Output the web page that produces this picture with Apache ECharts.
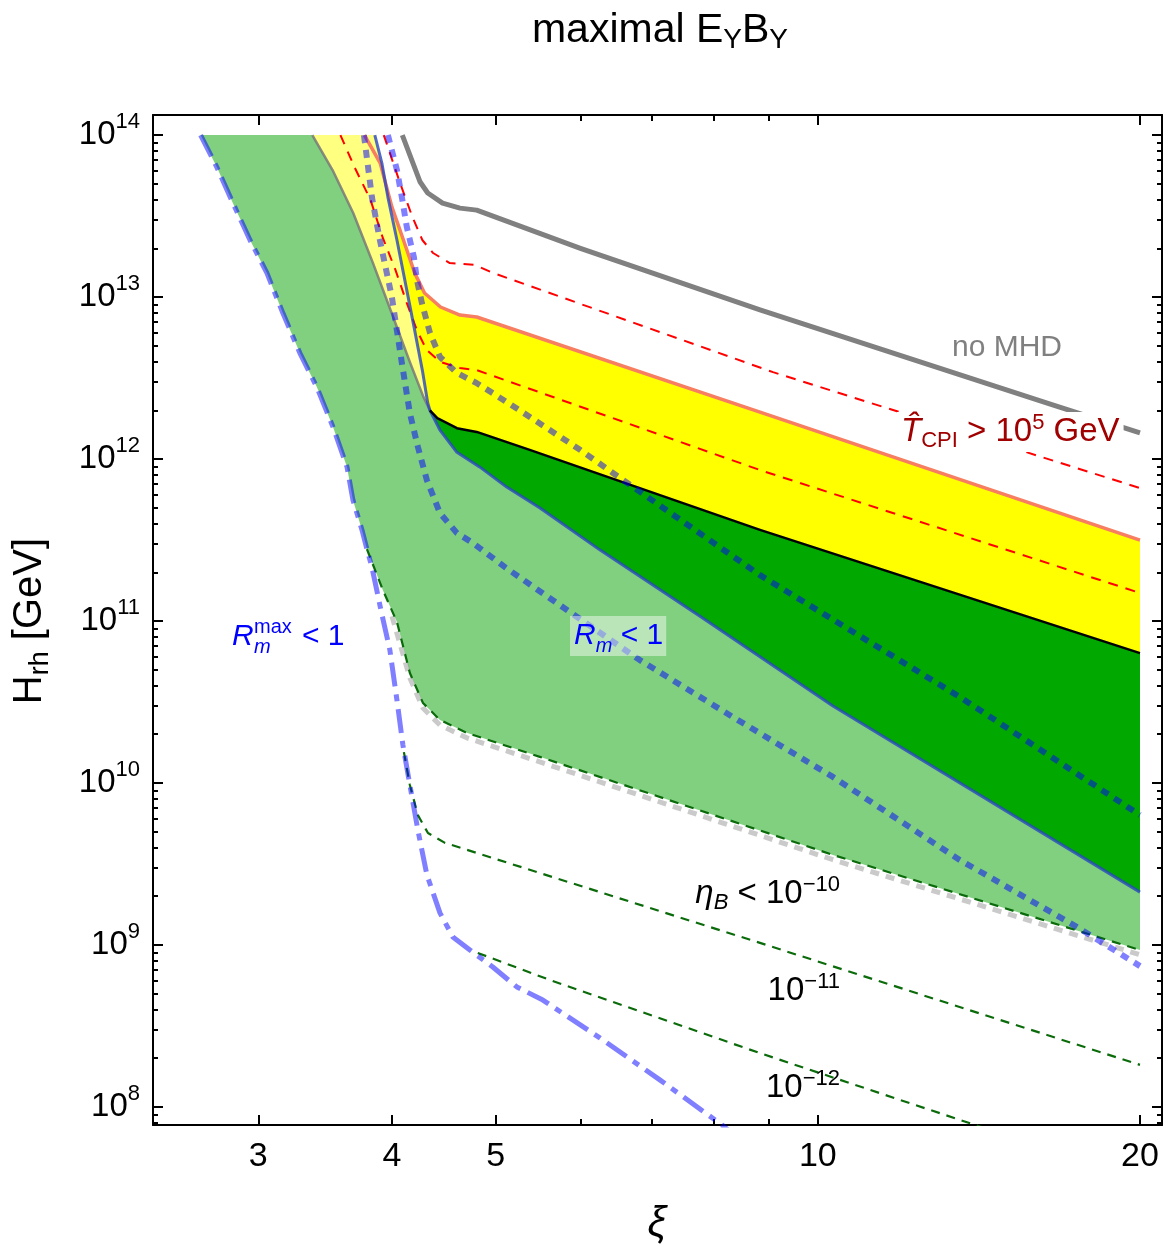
<!DOCTYPE html>
<html>
<head>
<meta charset="utf-8">
<script src="https://cdn.jsdelivr.net/npm/echarts@6.0.0/dist/echarts.min.js"></script>
<style>
  html, body { margin: 0; padding: 0; background: #fff; }
  #chart { width: 1173px; height: 1257px; }
</style>
</head>
<body>
<div id="chart"></div>
<script>
// axis ranges and ticks
var xMin = 2.392, xMax = 20.97;
var yMin = 7.74e7, yMax = 1.33e14;
var xMajorTicks = [3, 4, 5, 10, 20];
var xMinorTicks = [6, 7, 8, 9];
var yMajorTicks = [1e8, 1e9, 1e10, 1e11, 1e12, 1e13, 1e14];
var yMinorTicks = [];
[1e7].concat(yMajorTicks).forEach(function (d) {
  for (var k = 2; k <= 9; k++) yMinorTicks.push(k * d);
});

// curves, [xi, H_rh]
var grayNoMHD = [[4.09, 1e14], [4.25, 5.13e13], [4.32, 4.39e13], [4.46, 3.80e13], [4.63, 3.54e13],
  [4.80, 3.44e13], [6.0, 2.0e13], [8.83, 8.32e12], [16.6, 2.15e12], [20, 1.45e12]];
var tcpiHigh = [[3.93, 1e14], [4.07, 5.06e13], [4.18, 3.12e13], [4.27, 2.25e13], [4.37, 1.87e13],
  [4.53, 1.62e13], [4.78, 1.58e13], [4.97, 1.41e13], [9.08, 3.44e12], [20, 6.62e11]];
var orangeLine = [[3.77, 1e14], [3.90, 6.71e13], [4.00, 3.59e13], [4.10, 2.25e13], [4.20, 1.41e13],
  [4.29, 1.06e13], [4.44, 8.68e12], [4.63, 7.74e12], [4.80, 7.53e12], [9.22, 1.77e12], [20, 3.16e11]];
var tcpiLow = [[3.58, 1e14], [3.69, 6.34e13], [3.82, 3.97e13], [3.92, 2.34e13], [4.03, 1.47e13],
  [4.13, 9.18e12], [4.22, 6.25e12], [4.31, 4.71e12], [4.44, 3.97e12], [4.63, 3.65e12],
  [4.80, 3.54e12], [8.83, 8.55e11], [20, 1.49e11]];
var graySteep = [[3.37, 1e14], [3.52, 6.08e13], [3.68, 3.30e13], [3.84, 1.62e13], [4.01, 7.53e12],
  [4.16, 3.92e12], [4.28, 2.42e12], [4.34, 2.0e12]];
var rmTop = [[3.855, 1e14], [3.914, 6.71e13], [3.965, 4.14e13], [4.043, 2.25e13], [4.13, 1.10e13],
  [4.20, 6.25e12], [4.27, 3.54e12], [4.32, 2.22e12], [4.34, 2.0e12]];
var rmLow = [[4.34, 2.0e12], [4.435, 1.51e12], [4.60, 1.10e12], [4.83, 8.94e11], [5.12, 6.71e11],
  [5.50, 4.99e11], [6.26, 2.74e11], [7.76, 1.07e11], [10.33, 2.99e10], [20, 2.12e9]];
var blackLine = [[4.34, 2.0e12], [4.41, 1.79e12], [4.60, 1.55e12], [4.80, 1.47e12], [5.38, 1.14e12],
  [8.83, 3.65e11], [20, 6.34e10]];
var rmMaxTop = [[2.65, 1e14], [2.744, 6.34e13], [2.841, 3.80e13], [2.947, 2.25e13], [3.056, 1.41e13],
  [3.163, 7.96e12], [3.281, 4.51e12], [3.403, 2.78e12], [3.523, 1.58e12], [3.631, 8.94e11],
  [3.678, 5.58e11], [3.750, 3.65e11], [3.790, 2.78e11]];
var rmMaxLow = [[3.790, 2.78e11], [3.831, 2.15e11], [3.906, 1.17e11], [3.982, 6.62e10], [4.043, 3.25e10],
  [4.095, 1.72e10], [4.157, 9.73e9], [4.229, 5.13e9], [4.312, 2.71e9], [4.435, 1.58e9], [4.560, 1.12e9],
  [4.730, 9.31e8], [4.969, 7.31e8], [5.233, 5.51e8], [5.534, 4.57e8], [6.256, 2.67e8], [7.118, 1.47e8],
  [8.137, 7.74e7], [8.4, 6.5e7]];
var eta10 = [[3.790, 2.78e11], [3.923, 1.55e11], [4.043, 9.86e10], [4.157, 4.78e10], [4.276, 3.12e10],
  [4.435, 2.45e10], [4.699, 2.04e10], [5.498, 1.45e10], [10.33, 3.60e9], [20, 9.31e8]];
var eta10Shadow = [[4.00, 1.07e11], [4.157, 4.45e10], [4.276, 2.9e10], [4.435, 2.28e10], [4.699, 1.9e10],
  [5.498, 1.35e10], [10.33, 3.36e9], [20, 8.7e8]];
var eta11 = [[4.104, 1.55e10], [4.157, 9.73e9], [4.229, 6.34e9], [4.322, 4.91e9], [4.483, 4.27e9],
  [8.83, 1.03e9], [20, 1.82e8]];
var eta12 = [[4.811, 8.93e8], [5.619, 6.08e8], [8.83, 2.15e8], [20, 3.54e7]];
var dotA = [[3.965, 1e14], [4.043, 6.08e13], [4.086, 4.14e13], [4.130, 2.70e13], [4.193, 1.77e13],
  [4.221, 1.27e13], [4.266, 9.18e12], [4.341, 6.00e12], [4.435, 4.27e12], [4.600, 3.40e12],
  [4.801, 2.94e12], [4.969, 2.55e12], [5.381, 1.82e12], [5.995, 1.14e12], [6.435, 8.20e11],
  [8.83, 1.92e11], [13.57, 3.40e10], [20, 6.34e9]];
var dotB = [[3.766, 1e14], [3.831, 4.14e13], [3.897, 2.25e13], [3.999, 1.0e13], [4.086, 3.92e12],
  [4.157, 1.92e12], [4.229, 1.19e12], [4.312, 7.41e11], [4.435, 4.64e11], [4.600, 3.49e11],
  [4.761, 3.03e11], [5.101, 2.15e11], [5.829, 1.17e11], [6.818, 5.74e10], [8.332, 2.55e10],
  [10.33, 1.09e10], [13.57, 3.35e9], [17.47, 1.29e9], [20, 7.41e8]];

function rev(a) { return a.slice().reverse(); }
var lightGreenPoly = rmMaxTop.concat(eta10, rev(rmLow), rev(graySteep));
var paleYellowPoly = graySteep.concat(rev(rmTop));
var yellowPoly = orangeLine.slice(2).concat(rev(blackLine), rev(rmTop).slice(1, 6));
var darkGreenPoly = blackLine.concat(rev(rmLow));

var F = '"Liberation Sans", Arial, Helvetica, sans-serif';

function poly(points, color) {
  return {
    type: 'custom',
    silent: true,
    data: [[10, 1e10]],
    z: 2,
    renderItem: function (params, api) {
      return {
        type: 'polygon',
        shape: { points: points.map(function (p) { return api.coord(p); }) },
        style: { fill: color }
      };
    }
  };
}

function line(data, color, width, dash) {
  return {
    type: 'line',
    data: data,
    showSymbol: false,
    symbol: 'none',
    silent: true,
    z: 3,
    lineStyle: { color: color, width: width, type: dash || 'solid', cap: 'butt', join: 'round' }
  };
}

function xAx(pos, ticks, len, withLine, withLabel) {
  return {
    type: 'log', position: pos, min: xMin, max: xMax,
    splitLine: { show: false },
    axisLine: { show: withLine, onZero: false, lineStyle: { color: '#000', width: 2 } },
    axisTick: { show: true, inside: true, length: len, customValues: ticks, lineStyle: { color: '#000', width: 2 } },
    axisLabel: {
      show: withLabel, customValues: ticks, margin: 15, color: '#000', fontSize: 34, fontFamily: F,
      formatter: function (v) { return String(Math.round(v)); }
    }
  };
}

function yAx(pos, ticks, len, withLine, withLabel) {
  return {
    type: 'log', position: pos, min: yMin, max: yMax,
    splitLine: { show: false },
    axisLine: { show: withLine, onZero: false, lineStyle: { color: '#000', width: 2 } },
    axisTick: { show: true, inside: true, length: len, customValues: ticks, lineStyle: { color: '#000', width: 2 } },
    axisLabel: {
      show: withLabel, customValues: ticks, margin: 13,
      formatter: function (v) { return '{b|10}{s|' + Math.round(Math.log10(v)) + '}'; },
      rich: {
        b: { fontSize: 33, lineHeight: 48, fontFamily: F, color: '#000' },
        s: { fontSize: 22, lineHeight: 22, verticalAlign: 'top', fontFamily: F, color: '#000' }
      }
    }
  };
}

function tokens(size, lh, color) {
  return {
    t: { fontSize: size, lineHeight: lh, fontFamily: F, fill: color },
    i: { fontSize: size, lineHeight: lh, fontFamily: F, fontStyle: 'italic', fill: color },
    sup: { fontSize: Math.round(size * 0.68), lineHeight: Math.round(size * 0.7), verticalAlign: 'top', fontFamily: F, fill: color },
    sub: { fontSize: Math.round(size * 0.68), lineHeight: Math.round(size * 0.7), verticalAlign: 'bottom', fontFamily: F, fill: color },
    subi: { fontSize: Math.round(size * 0.68), lineHeight: Math.round(size * 0.7), verticalAlign: 'bottom', fontFamily: F, fontStyle: 'italic', fill: color }
  };
}

function txt(x, y, text, rich, align, extra, rotation) {
  var style = { text: text, rich: rich, align: align || 'left', verticalAlign: 'middle', fontFamily: F, fontSize: 30, fill: '#000' };
  if (extra) for (var k in extra) style[k] = extra[k];
  return { type: 'text', x: x, y: y, rotation: rotation || 0, z: 100, silent: true, style: style };
}

var chart = echarts.init(document.getElementById('chart'), null, { renderer: 'canvas' });
chart.setOption({
  animation: false,
  backgroundColor: '#fff',
  grid: { left: 153, right: 11, top: 115, bottom: 132, containLabel: false, outerBoundsMode: 'none' },
  xAxis: [
    xAx('bottom', xMajorTicks, 10, true, true),
    xAx('bottom', xMinorTicks, 6, false, false),
    xAx('top', xMajorTicks, 10, true, false),
    xAx('top', xMinorTicks, 6, false, false)
  ],
  yAxis: [
    yAx('left', yMajorTicks, 10, true, true),
    yAx('left', yMinorTicks, 5, false, false),
    yAx('right', yMajorTicks, 10, true, false),
    yAx('right', yMinorTicks, 5, false, false)
  ],
  series: [
    poly(lightGreenPoly, '#80d080'),
    poly(paleYellowPoly, '#ffff80'),
    poly(yellowPoly, '#ffff00'),
    poly(darkGreenPoly, '#00a800'),
    line(eta10Shadow, 'rgba(150,150,150,0.5)', 5, [9, 7]),
    line(eta10, '#0b6b0b', 2.2, [9, 7]),
    line(eta11, '#0b6b0b', 2.2, [9, 7]),
    line(eta12, '#0b6b0b', 2.2, [9, 7]),
    line(tcpiLow, '#ff0000', 2, [10, 8]),
    line(tcpiHigh, '#ff0000', 2, [10, 8]),
    line(orangeLine, '#f77e60', 3.5),
    line(graySteep, 'rgba(120,120,120,0.85)', 2.5),
    line(rmTop.concat(rmLow.slice(1)), 'rgba(40,70,190,0.8)', 3),
    line(blackLine, '#000', 2.5),
    line(grayNoMHD, '#808080', 5),
    line(dotA, 'rgba(0,0,255,0.5)', 6, [8, 7]),
    line(dotB, 'rgba(0,0,255,0.5)', 6, [8, 7]),
    line(rmMaxTop.concat(rmMaxLow.slice(1)), 'rgba(0,0,255,0.5)', 5, [24, 8, 7, 8])
  ],
  graphic: [
    txt(660, 31, '{t|maximal E}{sub|Y}{t|B}{sub|Y}', {
      t: { fontSize: 41, lineHeight: 46, fontFamily: F, fill: '#000' },
      sub: { fontSize: 28, lineHeight: 30, verticalAlign: 'bottom', fontFamily: F, fill: '#000' }
    }, 'center'),
    txt(30, 621, '{t|H}{sub|rh}{t| [GeV]}', tokens(40, 48, '#000'), 'center', null, Math.PI / 2),
    txt(657, 1224, '{i|ξ}', tokens(42, 48, '#000'), 'center'),
    txt(952, 348, '{t|no MHD}', tokens(30, 38, '#808080')),
    txt(897, 432, '{i|T\u0302}{sub|CPI}{t| > 10}{sup|5}{t| GeV}', tokens(33, 40, '#a00000'), 'left',
      { backgroundColor: '#fff', padding: [0, 4, 0, 4] }),
    txt(232, 637, '{i|R}', tokens(30, 38, '#0000ff')),
    txt(254, 647, '{i|m}', tokens(20, 24, '#0000ff')),
    txt(254, 627, '{t|max}', tokens(20, 24, '#0000ff')),
    txt(302, 637, '{t|< 1}', tokens(30, 38, '#0000ff')),
    txt(570, 636, '{i|R}{subi|m}{t| < 1}', tokens(30, 40, '#0000ff'), 'left',
      { backgroundColor: 'rgba(255,255,255,0.45)', padding: [0, 3, 0, 4] }),
    txt(840, 894, '{i|η}{subi|B}{t| < 10}{sup|\u221210}', tokens(33, 40, '#000'), 'right'),
    txt(840, 991, '{t|10}{sup|\u221211}', tokens(33, 40, '#000'), 'right'),
    txt(840, 1088, '{t|10}{sup|\u221212}', tokens(33, 40, '#000'), 'right')
  ]
});
</script>
</body>
</html>
